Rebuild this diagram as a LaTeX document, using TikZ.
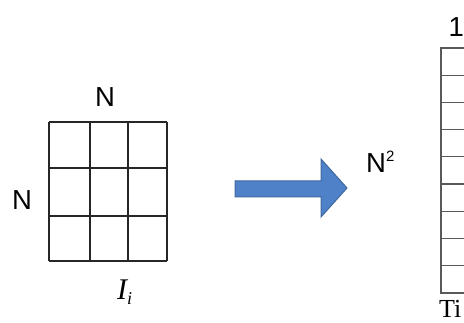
\documentclass[tikz,border=0pt]{standalone}
\usepackage{fontspec}
\setmainfont{Liberation Sans}
\newfontfamily\seriffont{Liberation Serif}
\begin{document}
\begin{tikzpicture}[x=1pt,y=-1pt,
  lbl/.style={inner sep=0pt,anchor=base,font=\fontsize{27.5}{30}\selectfont},
  gridline/.style={line width=1.9pt,draw=black!85},
  colline/.style={line width=1.3pt,draw=black!65},
  bigarrow/.style={fill=arrowfill,draw=arrowdraw,line width=1pt,line join=miter}]
\definecolor{arrowfill}{HTML}{4F81C9}
\definecolor{arrowdraw}{HTML}{40679E}
\clip (0,0) rectangle (464,323);
\fill[white] (0,0) rectangle (464,323);
% grid
\foreach \x in {49,90,128,167} \draw[gridline] (\x,122) -- (\x,261);
\foreach \y in {122,168,216,261} \draw[gridline] (49,\y) -- (167,\y);
\node[lbl] (ntop) at (105,107) {N};
\node[lbl] (nleft) at (22,210) {N};
\node[inner sep=0pt,anchor=base west,font=\seriffont\itshape\fontsize{30}{32}\selectfont] (ii) at (117,300) {I\raisebox{-5pt}{\fontsize{18}{18}\selectfont i}};
% arrow
\draw[bigarrow] (235,181) -- (321,181) -- (321,159) -- (347,188) -- (321,217) -- (321,197) -- (235,197) -- cycle;
% N^2
\node[lbl,anchor=base west] (nsq) at (366,173) {N\raisebox{11pt}{\fontsize{15}{15}\selectfont 2}};
% column
\draw[colline] (441,48) rectangle (480,293);
\foreach \i in {1,...,8} \draw[colline] (441,{48+\i*27.2}) -- (480,{48+\i*27.2});
\node[lbl,anchor=base east] (one) at (464,37) {1};
\node[inner sep=0pt,anchor=base west,font=\seriffont\fontsize{26}{28}\selectfont] (ti) at (439,318) {Ti};
\end{tikzpicture}
\end{document}
